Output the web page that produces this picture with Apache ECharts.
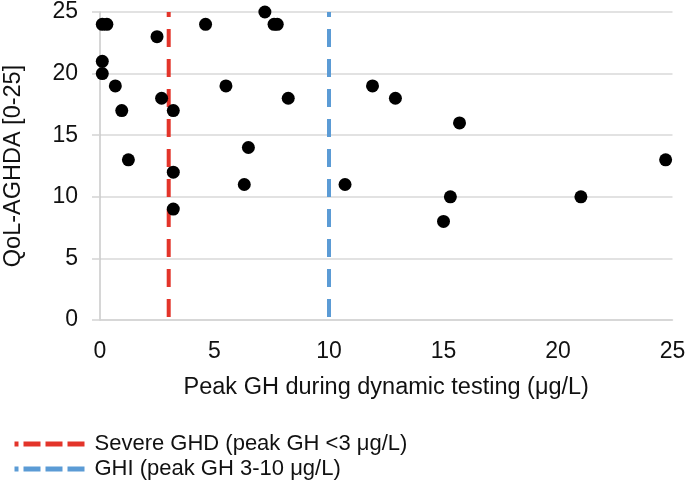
<!DOCTYPE html>
<html>
<head>
<meta charset="utf-8">
<script src="https://cdn.jsdelivr.net/npm/echarts@6/dist/echarts.min.js"></script>
<style>
html,body{margin:0;padding:0;background:#fff;}
#chart{width:685px;height:483px;}
</style>
</head>
<body>
<div id="chart"></div>
<script>
// Peak GH (µg/L) and QoL-AGHDA score per patient
const peakGH = [0.1, 0.3, 0.1, 0.1, 0.67, 0.95, 1.24, 2.49, 2.69, 3.2, 3.2, 3.2, 4.61, 5.5, 6.3, 6.48, 7.2, 7.6, 7.74, 8.22, 10.7, 11.9, 12.9, 15.7, 15.3, 15.0, 21.0, 24.7];
const qol    = [24, 24, 21, 20, 19, 17, 13, 23, 18, 17, 12, 9, 24, 19, 11, 14, 25, 24, 24, 18, 11, 19, 18, 16, 10, 8, 10, 13];

const thresholdNames = ['Severe GHD (peak GH <3 μg/L)', 'GHI (peak GH 3-10 μg/L)'];
const thresholdValues = [3, 10];
const thresholdColors = ['#e3342a', '#5b9bd5'];

const xTicks = [0, 5, 10, 15, 20, 25];
const yTicks = [0, 5, 10, 15, 20, 25];

const FONT = "'Liberation Sans', Arial, sans-serif";
const points = peakGH.map((x, i) => [x, qol[i]]);

const lineSeries = thresholdValues.map((v, i) => ({
  name: thresholdNames[i],
  type: 'line',
  color: thresholdColors[i],
  data: [[v, yTicks[yTicks.length - 1]], [v, yTicks[0]]],
  symbol: 'none',
  silent: true,
  z: 1,
  lineStyle: { color: thresholdColors[i], width: 4, type: [18, 12], dashOffset: 13 }
}));

const chart = echarts.init(document.getElementById('chart'), null, { renderer: 'canvas' });
chart.setOption({
  animation: false,
  backgroundColor: '#fff',
  textStyle: { fontFamily: FONT },
  grid: { left: 100, right: 12.5, top: 12, bottom: 163, containLabel: false, outerBoundsMode: 'none' },
  xAxis: {
    type: 'value', min: 0, max: 25, interval: 5,
    name: 'Peak GH during dynamic testing (μg/L)',
    nameLocation: 'middle', nameGap: 56,
    nameTextStyle: { fontSize: 23.5, color: '#111', fontFamily: FONT },
    axisLine: { show: true, lineStyle: { color: '#d4d4d4', width: 1.5 } },
    axisTick: { show: false },
    splitLine: { show: false },
    axisLabel: { fontSize: 23, color: '#111', margin: 20, fontFamily: FONT }
  },
  yAxis: {
    type: 'value', min: 0, max: 25, interval: 5,
    name: 'QoL-AGHDA [0-25]',
    nameLocation: 'middle', nameGap: 74, nameRotate: 90,
    nameTextStyle: { fontSize: 23.5, color: '#111', fontFamily: FONT },
    axisLine: { show: true, lineStyle: { color: '#c8c8c8', width: 1.5 } },
    axisTick: { show: true, inside: false, length: 8, lineStyle: { color: '#d4d4d4', width: 1.5 } },
    splitLine: { show: true, lineStyle: { color: '#d9d9d9', width: 1.5 } },
    axisLabel: { fontSize: 23, color: '#111', margin: 22, fontFamily: FONT }
  },
  legend: {
    orient: 'vertical', left: 7, top: 428, height: 60,
    itemWidth: 73, itemHeight: 14, itemGap: 3,
    itemStyle: { opacity: 0 },
    data: thresholdNames.map((n, i) => ({
      name: n,
      itemStyle: { opacity: 0 },
      lineStyle: { color: thresholdColors[i], width: 5, type: [17, 5] }
    })),
    textStyle: { fontSize: 22, color: '#111', fontFamily: FONT, padding: [0, 0, 0, 2] }
  },
  series: [
    ...lineSeries,
    {
      name: 'points',
      type: 'scatter',
      data: points,
      symbol: 'circle',
      symbolSize: 13,
      itemStyle: { color: '#000', opacity: 1 },
      z: 3
    }
  ]
});
</script>
</body>
</html>
